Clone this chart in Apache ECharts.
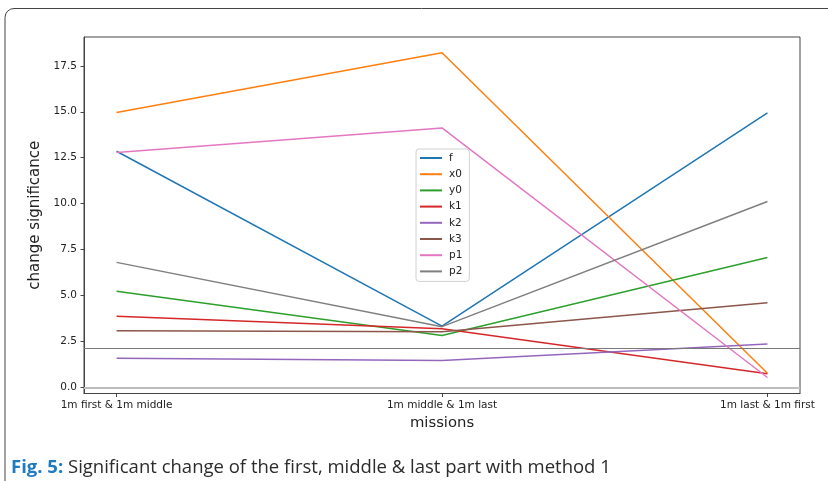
<!DOCTYPE html>
<html>
<head>
<meta charset="utf-8">
<script src="https://cdn.jsdelivr.net/npm/echarts@6/dist/echarts.min.js"></script>
<style>
html,body{margin:0;padding:0;background:#fff;}
#chart{width:828px;height:481px;}
</style>
</head>
<body>
<div id="chart"></div>
<script>
var categories = ['1m first & 1m middle', '1m middle & 1m last', '1m last & 1m first'];
var seriesNames = ['f', 'x0', 'y0', 'k1', 'k2', 'k3', 'p1', 'p2'];
var f  = [12.85, 3.33, 14.94];
var x0 = [14.96, 18.21, 0.76];
var y0 = [5.23, 2.82, 7.06];
var k1 = [3.87, 3.18, 0.73];
var k2 = [1.58, 1.46, 2.35];
var k3 = [3.07, 3.02, 4.60];
var p1 = [12.78, 14.12, 0.53];
var p2 = [6.80, 3.30, 10.11];
var refLines = [0, 2.13];
var yTicks = [0, 2.5, 5, 7.5, 10, 12.5, 15, 17.5];
var xTicks = [0, 1, 2];

var values = {f: f, x0: x0, y0: y0, k1: k1, k2: k2, k3: k3, p1: p1, p2: p2};
var colors = ['#1f77b4', '#ff7f0e', '#2ca02c', '#d62728', '#9467bd', '#8c564b', '#e377c2', '#7f7f7f'];

var series = seriesNames.map(function (name, i) {
  return {
    name: name,
    type: 'line',
    symbol: 'none',
    z: 3,
    lineStyle: {width: 1.5, color: colors[i]},
    itemStyle: {color: colors[i]},
    data: values[name].map(function (v, j) { return [j, v]; })
  };
});
series.unshift({
  name: 'ref',
  type: 'line',
  data: [],
  z: 2,
  markLine: {
    silent: true,
    symbol: 'none',
    label: {show: false},
    animation: false,
    data: [
      {yAxis: refLines[0], lineStyle: {color: '#bdbdbd', width: 2, type: 'solid'}},
      {yAxis: refLines[1], lineStyle: {color: '#7a7a7a', width: 1, type: 'solid'}}
    ]
  }
});

var chart = echarts.init(document.getElementById('chart'), null, {renderer: 'canvas'});
chart.setOption({
  animation: false,
  backgroundColor: '#fff',
  color: colors,
  grid: {left: 84, top: 37, right: 28, bottom: 87.5, show: true, borderColor: '#444', borderWidth: 1, backgroundColor: 'transparent'},
  legend: {
    data: seriesNames,
    orient: 'vertical',
    left: 416,
    top: 149,
    icon: 'rect',
    itemWidth: 22,
    itemHeight: 2,
    itemGap: 4.2,
    padding: [3, 7, 4, 4],
    borderColor: '#d0d0d0',
    borderWidth: 1,
    borderRadius: 3,
    backgroundColor: 'rgba(255,255,255,0.8)',
    textStyle: {fontFamily: 'DejaVu Sans', fontSize: 10.5, color: '#222', lineHeight: 12, padding: [0, 0, 0, 2]}
  },
  xAxis: {
    type: 'value',
    min: -0.1,
    max: 2.1,
    name: 'missions',
    nameLocation: 'middle',
    nameGap: 20,
    nameTextStyle: {fontFamily: 'DejaVu Sans', fontSize: 14.8, color: '#222'},
    axisLine: {show: true, onZero: false, lineStyle: {color: '#444', width: 1}},
    axisTick: {show: true, length: 3.5, customValues: xTicks, lineStyle: {color: '#444'}},
    axisLabel: {
      customValues: xTicks, margin: 6,
      fontFamily: 'DejaVu Sans', fontSize: 10.5, color: '#222',
      formatter: function (v) { return categories[Math.round(v)]; }
    },
    splitLine: {show: false}
  },
  yAxis: {
    type: 'value',
    min: -0.34,
    max: 19.07,
    name: 'change significance',
    nameLocation: 'middle',
    nameGap: 36,
    nameRotate: 90,
    nameTextStyle: {fontFamily: 'DejaVu Sans', fontSize: 15, color: '#222'},
    axisLine: {show: true, onZero: false, lineStyle: {color: '#444', width: 1}},
    axisTick: {show: true, length: 3.5, customValues: yTicks, lineStyle: {color: '#444'}},
    axisLabel: {
      customValues: yTicks, margin: 7,
      fontFamily: 'DejaVu Sans', fontSize: 10.5, color: '#222',
      formatter: function (v) { return v.toFixed(1); }
    },
    splitLine: {show: false}
  },
  graphic: [
    {
      type: 'rect',
      shape: {x: 5, y: 8.5, width: 900, height: 600, r: 9},
      style: {fill: 'none', stroke: '#444', lineWidth: 1},
      silent: true
    },
    {
      type: 'text',
      left: 11,
      top: 458,
      style: {
        text: '{b|Fig. 5:} Significant change of the first, middle & last part with method 1',
        fontFamily: 'Open Sans',
        fontSize: 18.5,
        fill: '#2b2b2b',
        rich: {
          b: {fontFamily: 'Open Sans', fontSize: 18.5, fontWeight: 'bold', fill: '#1f7bc0', color: '#1f7bc0'}
        }
      }
    }
  ],
  series: series
});
</script>
</body>
</html>
